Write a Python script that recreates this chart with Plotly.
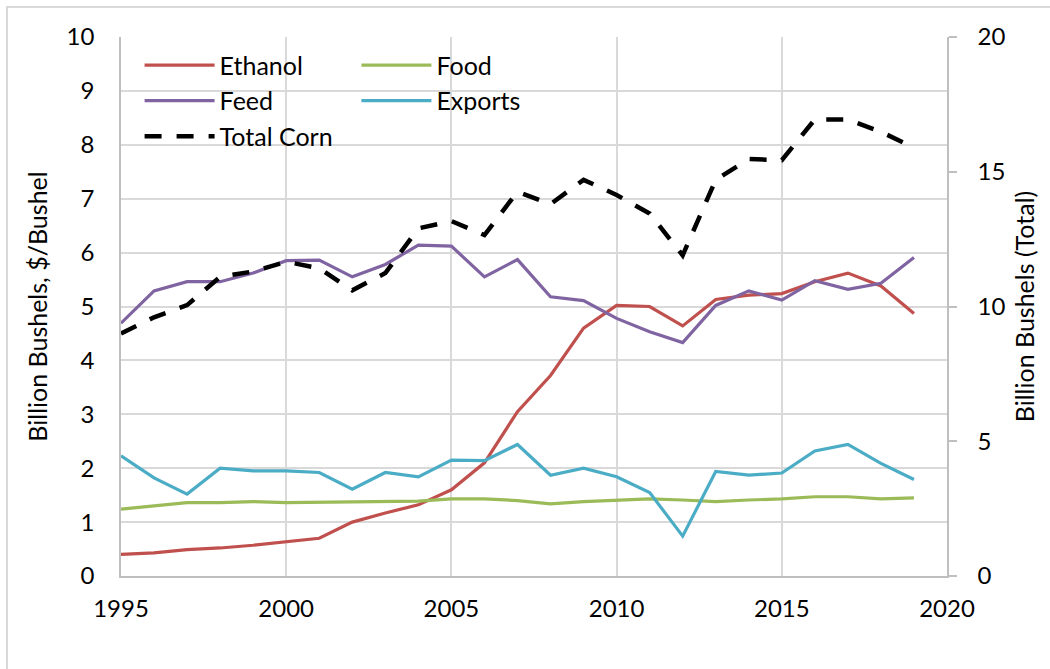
import plotly.graph_objects as go

# U.S. corn use by category (billion bushels) and total corn (right axis)
years = list(range(1995, 2020))

ethanol = [0.40, 0.43, 0.49, 0.52, 0.57, 0.63, 0.70, 1.00, 1.17, 1.32, 1.60, 2.10,
           3.05, 3.72, 4.60, 5.02, 5.00, 4.64, 5.13, 5.21, 5.24, 5.46, 5.62, 5.38, 4.87]
food = [1.24, 1.30, 1.36, 1.36, 1.38, 1.36, 1.37, 1.37, 1.39, 1.39, 1.43, 1.43,
        1.40, 1.34, 1.38, 1.41, 1.43, 1.41, 1.38, 1.41, 1.43, 1.47, 1.47, 1.43, 1.45]
feed = [4.69, 5.29, 5.46, 5.46, 5.62, 5.85, 5.86, 5.55, 5.78, 6.14, 6.12, 5.55,
        5.87, 5.18, 5.11, 4.78, 4.53, 4.33, 5.02, 5.29, 5.12, 5.48, 5.32, 5.43, 5.91]
exports = [2.23, 1.82, 1.52, 2.00, 1.95, 1.95, 1.92, 1.61, 1.92, 1.84, 2.15, 2.14,
           2.44, 1.87, 2.00, 1.84, 1.55, 0.74, 1.94, 1.87, 1.91, 2.32, 2.44, 2.09, 1.79]
total_corn = [9.0, 9.6, 10.05, 11.1, 11.3, 11.66, 11.42, 10.6, 11.24, 12.9, 13.17, 12.65,
              14.26, 13.8, 14.7, 14.14, 13.45, 11.9, 14.7, 15.47, 15.43, 16.94, 16.94, 16.48, 15.9]

FONT = "Lato"
GRID = "#D9D9D9"
AXIS = "#BFBFBF"

fig = go.Figure()

series = [
    ("Ethanol", ethanol, "#C0504D", "legend"),
    ("Food", food, "#9BBB59", "legend2"),
    ("Feed", feed, "#8064A2", "legend"),
    ("Exports", exports, "#4BACC6", "legend2"),
]
for name, vals, color, leg in series:
    fig.add_trace(go.Scatter(
        x=years, y=vals, name=name, mode="lines",
        line=dict(color=color, width=3.2), legend=leg,
    ))

fig.add_trace(go.Scatter(
    x=years, y=total_corn, name="Total Corn", mode="lines", yaxis="y2",
    line=dict(color="black", width=4.5, dash="17px,15px"), legend="legend",
))

legend_common = dict(
    bgcolor="rgba(0,0,0,0)", font=dict(family=FONT, size=25, color="black"),
    xanchor="left", yanchor="top", itemwidth=70, tracegroupgap=0,
)

fig.update_layout(
    width=1050, height=669,
    margin=dict(l=121, r=103, t=37, b=93),
    paper_bgcolor="white", plot_bgcolor="white",
    font=dict(family=FONT, size=24, color="black"),
    xaxis=dict(
        range=[1995, 2020], tickvals=[1995, 2000, 2005, 2010, 2015, 2020],
        showgrid=True, gridcolor=GRID, gridwidth=1.5,
        showline=True, linecolor=AXIS, linewidth=1.5,
        ticks="", ticklabelstandoff=10, zeroline=False,
        tickfont=dict(family=FONT, size=24),
    ),
    yaxis=dict(
        range=[0, 10], dtick=1,
        showgrid=True, gridcolor=GRID, gridwidth=1.5,
        showline=True, linecolor=AXIS, linewidth=1.5,
        ticks="", ticklabelstandoff=20, zeroline=False,
        tickfont=dict(family=FONT, size=24),
        title=dict(text="Billion Bushels, $/Bushel", standoff=12,
                   font=dict(family=FONT, size=25)),
    ),
    yaxis2=dict(
        range=[0, 20], dtick=5, overlaying="y", side="right",
        showgrid=False, showline=True, linecolor=AXIS, linewidth=1.5,
        ticks="outside", ticklen=8, tickcolor=AXIS, tickwidth=1.5,
        ticklabelstandoff=16, zeroline=False,
        tickfont=dict(family=FONT, size=24),
        title=dict(text="Billion Bushels (Total)", standoff=12,
                   font=dict(family=FONT, size=25)),
    ),
    legend=dict(x=0.0225, y=0.99, **legend_common),
    legend2=dict(x=0.285, y=0.99, **legend_common),
    shapes=[
        # light outer frame around the chart
        dict(type="rect", xref="paper", yref="paper",
             x0=-0.138, x1=1.3, y0=-0.4, y1=1.0557,
             line=dict(color="#D9D9D9", width=2), fillcolor="rgba(0,0,0,0)",
             layer="below"),
    ],
)

fig.write_html("out.html")
